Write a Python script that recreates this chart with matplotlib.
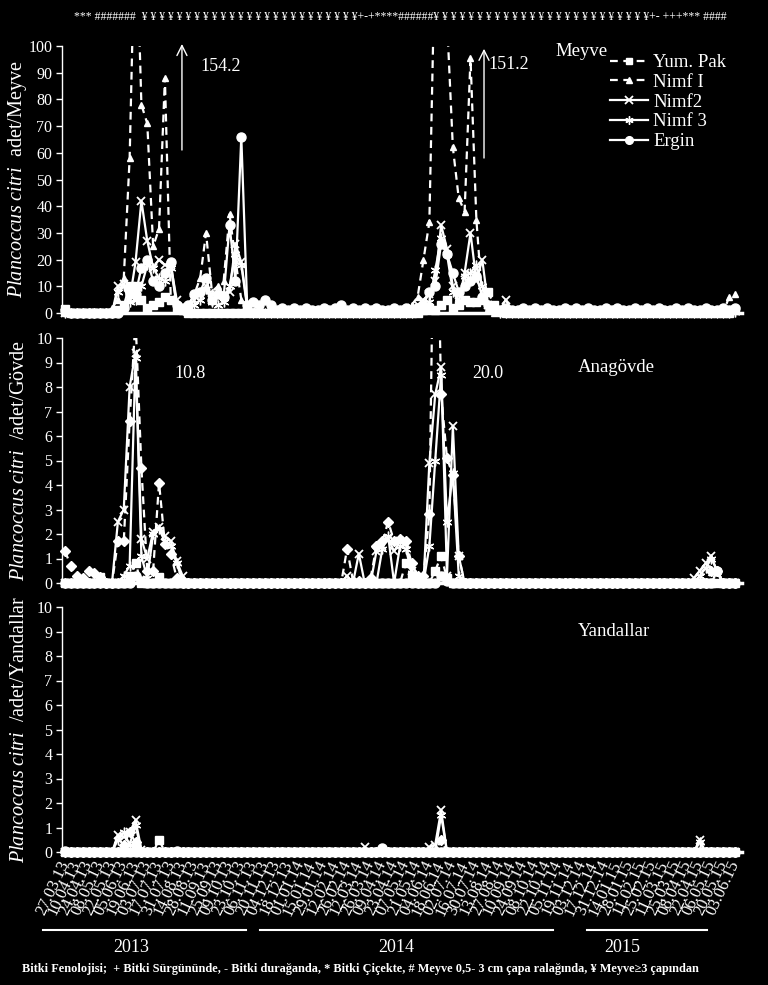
import numpy as np
import matplotlib
matplotlib.use('Agg')
import matplotlib.pyplot as plt
from matplotlib.lines import Line2D

plt.rcParams['font.family'] = ['Liberation Serif', 'DejaVu Serif']
plt.rcParams['mathtext.fontset'] = 'custom'
plt.rcParams['mathtext.rm'] = 'Liberation Serif'
plt.rcParams['mathtext.it'] = 'Liberation Serif:italic'

# ---------------- data ----------------
dates = ['27.03.13', '10.04.13', '24.04.13', '08.05.13', '22.05.13', '05.06.13', '19.06.13',
         '03.07.13', '17.07.13', '31.07.13', '14.08.13', '28.08.13', '11.09.13', '25.09.13',
         '09.10.13', '23.10.13', '06.11.13', '20.11.13', '04.12.13', '18.12.13',
         '01.01.14', '15.01.14', '29.01.14', '12.02.14', '26.02.14', '12.03.14', '26.03.14',
         '09.04.14', '23.04.14', '07.05.14', '21.05.14', '04.06.14', '18.06.14', '02.07.14',
         '16.07.14', '30.07.14', '13.08.14', '27.08.14', '10.09.14', '24.09.14', '08.10.14',
         '22.10.14', '05.11.14', '19.11.14', '03.12.14', '17.12.14', '31.12.14',
         '14.01.15', '28.01.15', '11.02.15', '25.02.15', '11.03.15', '25.03.15', '08.04.15',
         '22.04.15', '06.05.15', '20.05.15', '03.06.15']

series_names = ['Yum. Pak', 'Nimf I', 'Nimf2', 'Nimf 3', 'Ergin']

# Meyve (fruit)
meyve_yum = [1.5, 0, 0, 0, 0, 0, 0, 0, 0, 1,
             3, 10, 10, 5, 2, 3, 4, 6, 5, 2,
             1, 0, 0, 0, 0, 0, 0, 0, 0, 0,
             0, 0, 0, 0, 0, 0, 0, 0, 0, 0,
             0, 0, 0, 0, 0, 0, 0, 0, 0, 0,
             0, 0, 0, 0, 0, 0, 0, 0, 0, 0,
             0, 1, 2, 1, 3, 5, 2, 3, 5, 4,
             4, 5, 8, 3, 1, 0, 0, 0, 0, 0,
             0, 0, 0, 0, 0, 0, 0, 0, 0, 0,
             0, 0, 0, 0, 0, 0, 0, 0, 0, 0,
             0, 0, 0, 0, 0, 0, 0, 0, 0, 0,
             0, 0, 0, 0, 1]
meyve_n1 = [0, 0, 0, 0, 0, 0, 0, 0, 2, 5,
            13, 58, 154.2, 78, 71, 25, 31.5, 88, 5, 2,
            1, 3, 7, 13, 30, 8, 10, 12, 37, 20,
            5, 1, 0, 0, 0, 0, 0, 0, 0, 0,
            0, 0, 0, 0, 0, 0, 0, 0, 0, 0,
            0, 0, 0, 0, 0, 0, 0, 0, 1, 3,
            6, 20, 34, 140, 151.2, 110, 62, 43, 38, 95.5,
            35, 5, 2, 0, 0, 0, 0, 0, 0, 0,
            0, 0, 0, 0, 0, 0, 0, 0, 0, 0,
            0, 0, 0, 0, 0, 0, 0, 0, 0, 0,
            0, 0, 0, 0, 0, 0, 0, 0, 0, 0,
            0, 0, 0, 6, 7]
meyve_n2 = [0, 0, 0, 0, 0, 0, 0, 0, 0, 10,
            11, 5, 19, 42, 27, 17, 20, 18, 18, 5,
            2, 1, 5, 7, 10, 5, 6, 7, 8, 26,
            19, 3, 1, 0, 0, 0, 0, 0, 0, 0,
            0, 0, 0, 0, 0, 0, 0, 0, 0, 0,
            0, 0, 0, 0, 0, 0, 0, 0, 1, 2,
            3, 5, 7, 12, 33, 24, 10, 4, 15, 30,
            12, 20, 3, 2, 1, 5, 0.5, 0, 0, 0,
            0, 0, 0, 0, 0, 0, 0, 0, 0, 0,
            0, 0, 0, 0, 0, 0, 0, 0, 0, 0,
            0, 0, 0, 0, 0, 0, 0, 0, 0, 0,
            0, 0, 0, 0, 1]
meyve_n3 = [0, 0, 0, 0, 0, 0, 0, 0, 0, 8,
            10, 4, 5, 10, 18, 17, 13, 12, 17, 3,
            1, 1, 3, 5, 9, 4, 3, 4, 10, 22,
            18, 2, 0, 0, 0, 0, 0, 0, 0, 0,
            0, 0, 0, 0, 0, 0, 0, 0, 0, 0,
            0, 0, 0, 0, 0, 0, 0, 0, 0, 0,
            1, 2, 4, 16, 28, 22, 8, 4, 14, 15,
            18, 10, 3, 1, 0, 0, 0, 0, 0, 0,
            0, 0, 0, 0, 0, 0, 0, 0, 0, 0,
            0, 0, 0, 0, 0, 0, 0, 0, 0, 0,
            0, 0, 0, 0, 0, 0, 0, 0, 0, 0,
            0, 0, 0, 0, 0.5]
meyve_erg = [1, 0, 0, 0, 0, 0, 0, 0, 0, 0,
             2, 7, 7, 17, 20, 12, 10, 15, 19, 3,
             2, 3, 7, 8, 13, 5, 7, 6, 33, 12,
             66, 3, 4, 3, 5, 3, 1, 2, 1, 2,
             1, 2, 1, 1, 2, 1, 2, 3, 1, 2,
             1, 2, 1, 2, 1, 1, 2, 1, 2, 1,
             2, 3, 8, 10, 26, 22, 15, 8, 10, 12,
             14, 6, 3, 2, 1, 2, 1, 1, 2, 1,
             2, 1, 2, 1, 1, 2, 1, 2, 1, 2,
             1, 1, 2, 1, 2, 1, 1, 2, 1, 2,
             1, 2, 1, 1, 2, 1, 2, 1, 1, 2,
             1, 1, 2, 1, 2]

# Anagovde (main trunk)
govde_yum = [0, 0, 0, 0, 0, 0, 0.25, 0, 0, 0,
             0, 0.3, 0.8, 0, 0, 0, 0.25, 0, 0, 0,
             0, 0, 0, 0, 0, 0, 0, 0, 0, 0,
             0, 0, 0, 0, 0, 0, 0, 0, 0, 0,
             0, 0, 0, 0, 0, 0, 0, 0, 0, 0,
             0, 0, 0, 0, 0, 0, 0, 0, 0.8, 0.3,
             0, 0, 0, 0.5, 1.1, 0.2, 0, 0, 0, 0,
             0, 0, 0, 0, 0, 0, 0, 0, 0, 0,
             0, 0, 0, 0, 0, 0, 0, 0, 0, 0,
             0, 0, 0, 0, 0, 0, 0, 0, 0, 0,
             0, 0, 0, 0, 0, 0, 0, 0, 0, 0,
             0, 0, 0, 0, 0]
govde_n1 = [1.3, 0.7, 0.3, 0.2, 0.5, 0.4, 0.25, 0, 0, 1.7,
            1.7, 6.6, 10.8, 4.7, 0.5, 0.5, 4.1, 1.6, 1.2, 0.2,
            0, 0, 0, 0, 0, 0, 0, 0, 0, 0,
            0, 0, 0, 0, 0, 0, 0, 0, 0, 0,
            0, 0, 0, 0, 0, 0, 0, 0, 1.4, 0.1,
            0.1, 0, 0.2, 1.5, 1.7, 2.5, 1.7, 1.8, 1.7, 0.8,
            0.3, 0.3, 2.8, 20.0, 7.7, 5.1, 4.4, 1.1, 0, 0,
            0, 0, 0, 0, 0, 0, 0, 0, 0, 0,
            0, 0, 0, 0, 0, 0, 0, 0, 0, 0,
            0, 0, 0, 0, 0, 0, 0, 0, 0, 0,
            0, 0, 0, 0, 0, 0, 0, 0, 0, 0,
            0.5, 0.5, 0, 0, 0]
govde_n2 = [0, 0, 0, 0, 0, 0, 0, 0, 0, 2.5,
            3.0, 8.0, 9.4, 1.8, 1.0, 2.1, 2.3, 1.9, 1.7, 0.9,
            0.3, 0, 0, 0, 0, 0, 0, 0, 0, 0,
            0, 0, 0, 0, 0, 0, 0, 0, 0, 0,
            0, 0, 0, 0, 0, 0, 0, 0, 0.3, 0,
            1.2, 0, 0, 1.3, 1.5, 1.8, 1.3, 1.7, 1.6, 0.5,
            0, 0, 4.9, 7.7, 8.8, 0.3, 6.4, 1.1, 0, 0,
            0, 0, 0, 0, 0, 0, 0, 0, 0, 0,
            0, 0, 0, 0, 0, 0, 0, 0, 0, 0,
            0, 0, 0, 0, 0, 0, 0, 0, 0, 0,
            0, 0, 0, 0, 0, 0, 0, 0.2, 0.5, 0.8,
            1.1, 0.4, 0, 0, 0]
govde_n3 = [0, 0, 0, 0, 0, 0, 0, 0, 0, 0,
            0.3, 0.7, 9.2, 1.1, 0.2, 2.0, 2.2, 1.7, 1.5, 0.8,
            0.1, 0, 0, 0, 0, 0, 0, 0, 0, 0,
            0, 0, 0, 0, 0, 0, 0, 0, 0, 0,
            0, 0, 0, 0, 0, 0, 0, 0, 0, 0,
            0, 0, 0, 0, 1.4, 1.9, 0, 1.5, 1.4, 0.4,
            0, 0, 1.5, 5.0, 8.5, 2.5, 4.5, 0.3, 0, 0,
            0, 0, 0, 0, 0, 0, 0, 0, 0, 0,
            0, 0, 0, 0, 0, 0, 0, 0, 0, 0,
            0, 0, 0, 0, 0, 0, 0, 0, 0, 0,
            0, 0, 0, 0, 0, 0, 0, 0, 0.3, 0.6,
            1.0, 0.5, 0, 0, 0]
govde_erg = [0, 0, 0, 0, 0, 0, 0, 0, 0, 0,
             0, 0, 0.3, 0.1, 0, 0, 0, 0, 0, 0,
             0, 0, 0, 0, 0, 0, 0, 0, 0, 0,
             0, 0, 0, 0, 0, 0, 0, 0, 0, 0,
             0, 0, 0, 0, 0, 0, 0, 0, 0, 0,
             0, 0, 0, 0, 0, 0, 0, 0, 0, 0,
             0, 0, 0, 0, 0.3, 0.1, 0, 0, 0, 0,
             0, 0, 0, 0, 0, 0, 0, 0, 0, 0,
             0, 0, 0, 0, 0, 0, 0, 0, 0, 0,
             0, 0, 0, 0, 0, 0, 0, 0, 0, 0,
             0, 0, 0, 0, 0, 0, 0, 0, 0, 0,
             0, 0.5, 0, 0, 0]

# Yandallar (side branches)
yan_yum = [0, 0, 0, 0, 0, 0, 0, 0, 0, 0,
           0, 0, 0.2, 0, 0, 0, 0.5, 0, 0, 0,
           0, 0, 0, 0, 0, 0, 0, 0, 0, 0,
           0, 0, 0, 0, 0, 0, 0, 0, 0, 0,
           0, 0, 0, 0, 0, 0, 0, 0, 0, 0,
           0, 0, 0, 0, 0, 0, 0, 0, 0, 0,
           0, 0, 0, 0, 0, 0, 0, 0, 0, 0,
           0, 0, 0, 0, 0, 0, 0, 0, 0, 0,
           0, 0, 0, 0, 0, 0, 0, 0, 0, 0,
           0, 0, 0, 0, 0, 0, 0, 0, 0, 0,
           0, 0, 0, 0, 0, 0, 0, 0, 0, 0,
           0, 0, 0, 0, 0]
yan_n1 = [0, 0, 0, 0, 0, 0, 0, 0, 0, 0,
          0.3, 0.8, 0.4, 0, 0, 0, 0, 0, 0, 0,
          0, 0, 0, 0, 0, 0, 0, 0, 0, 0,
          0, 0, 0, 0, 0, 0, 0, 0, 0, 0,
          0, 0, 0, 0, 0, 0, 0, 0, 0, 0,
          0, 0, 0, 0, 0, 0, 0, 0, 0, 0,
          0, 0, 0, 0, 0.5, 0, 0, 0, 0, 0,
          0, 0, 0, 0, 0, 0, 0, 0, 0, 0,
          0, 0, 0, 0, 0, 0, 0, 0, 0, 0,
          0, 0, 0, 0, 0, 0, 0, 0, 0, 0,
          0, 0, 0, 0, 0, 0, 0, 0, 0, 0,
          0, 0, 0, 0, 0]
yan_n2 = [0, 0, 0, 0, 0, 0, 0, 0, 0, 0.7,
          0.6, 0.8, 1.3, 0.1, 0, 0, 0, 0, 0, 0,
          0, 0, 0, 0, 0, 0, 0, 0, 0, 0,
          0, 0, 0, 0, 0, 0, 0, 0, 0, 0,
          0, 0, 0, 0, 0, 0, 0, 0, 0, 0,
          0, 0.2, 0, 0, 0, 0, 0, 0, 0, 0,
          0, 0, 0.2, 0.3, 1.7, 0, 0, 0, 0, 0,
          0, 0, 0, 0, 0, 0, 0, 0, 0, 0,
          0, 0, 0, 0, 0, 0, 0, 0, 0, 0,
          0, 0, 0, 0, 0, 0, 0, 0, 0, 0,
          0, 0, 0, 0, 0, 0, 0, 0, 0.5, 0,
          0, 0, 0, 0, 0]
yan_n3 = [0, 0, 0, 0, 0, 0, 0, 0, 0, 0.5,
          0.8, 0.3, 1.1, 0, 0, 0, 0, 0, 0, 0,
          0, 0, 0, 0, 0, 0, 0, 0, 0, 0,
          0, 0, 0, 0, 0, 0, 0, 0, 0, 0,
          0, 0, 0, 0, 0, 0, 0, 0, 0, 0,
          0, 0, 0, 0, 0, 0, 0, 0, 0, 0,
          0, 0, 0, 0, 1.5, 0, 0, 0, 0, 0,
          0, 0, 0, 0, 0, 0, 0, 0, 0, 0,
          0, 0, 0, 0, 0, 0, 0, 0, 0, 0,
          0, 0, 0, 0, 0, 0, 0, 0, 0, 0,
          0, 0, 0, 0, 0, 0, 0, 0, 0.4, 0,
          0, 0, 0, 0, 0]
yan_erg = [0.05, 0, 0, 0, 0, 0, 0, 0, 0, 0,
           0, 0, 0, 0, 0, 0, 0, 0, 0, 0.05,
           0, 0, 0, 0, 0, 0, 0, 0, 0, 0,
           0, 0, 0, 0, 0, 0, 0, 0, 0, 0,
           0, 0, 0, 0, 0, 0, 0, 0, 0, 0,
           0, 0, 0, 0, 0.15, 0, 0, 0, 0, 0,
           0, 0, 0, 0, 0, 0, 0, 0, 0, 0,
           0, 0, 0, 0, 0, 0, 0, 0, 0, 0,
           0, 0, 0, 0, 0, 0, 0, 0, 0, 0,
           0, 0, 0, 0, 0, 0, 0, 0, 0, 0,
           0, 0, 0, 0, 0, 0, 0, 0, 0, 0,
           0, 0, 0, 0, 0]

phenology = ("*** #######  " + " ".join("¥" * 25) + "+-+****######"
             + " ".join("¥" * 25) + "+- +++*** ####")
footnote = ("Bitki Fenolojisi;  + Bitki Sürgününde, - Bitki durağanda, * Bitki Çiçekte, "
            "# Meyve 0,5- 3 cm çapa ralağında, ¥ Meyve≥3 çapından")

# ---------------- figure ----------------
W, H = 768, 985
fig = plt.figure(figsize=(W / 100, H / 100), dpi=100, facecolor='black')


def ax_at(left, right, top, bottom):
    ax = fig.add_axes([left / W, 1 - bottom / H, (right - left) / W, (bottom - top) / H])
    ax.set_facecolor('black')
    return ax


ax1 = ax_at(62, 742, 46, 313)
ax2 = ax_at(62, 742, 338, 583)
ax3 = ax_at(62, 742, 607, 852)

DASH = (0, (3.5, 2.5))
LW = 1.6


def styles(n1marker):
    return [
        dict(ls=DASH, marker='s', ms=5.5),
        dict(ls=DASH, marker=n1marker, ms=5),
        dict(ls='-', marker='x', ms=6, mew=1.3),
        dict(ls='-', marker=(6, 2, 0), ms=7, mew=1.0),
        dict(ls='-', marker='o', ms=6.5),
    ]


def draw(ax, data, ymax, step, n1marker):
    x = np.arange(len(data[0]))
    for vals, st in zip(data, styles(n1marker)):
        v = np.asarray(vals, dtype=float)
        ax.plot(x, v, color='white', lw=LW, ls=st['ls'], clip_on=True, zorder=2)
        vm = np.where(v <= ymax, v, np.nan)
        ax.plot(x, vm, ls='none', marker=st['marker'], ms=st['ms'],
                mew=st.get('mew', 1.0), color='white', mfc='white', mec='white',
                clip_on=False, zorder=3)
    ax.set_xlim(-0.51, 115.2)
    ax.set_ylim(0, ymax)
    ax.set_yticks(np.arange(0, ymax + 1, step))
    for s in ['top', 'right']:
        ax.spines[s].set_visible(False)
    for s in ['left', 'bottom']:
        ax.spines[s].set_color('white')
        ax.spines[s].set_linewidth(1.0)
    ax.spines['bottom'].set_linewidth(2.5)
    ax.tick_params(axis='y', colors='white', labelsize=11.5, length=4, width=1,
                   direction='out', pad=3)
    ax.tick_params(axis='x', length=0)


draw(ax1, [meyve_yum, meyve_n1, meyve_n2, meyve_n3, meyve_erg], 100, 10, '^')
draw(ax2, [govde_yum, govde_n1, govde_n2, govde_n3, govde_erg], 10, 1, 'D')
draw(ax3, [yan_yum, yan_n1, yan_n2, yan_n3, yan_erg], 10, 1, 'D')

ax1.set_xticks([])
ax2.set_xticks([])
ax3.set_xticks(np.arange(0, 2 * len(dates), 2))
ax3.set_xticklabels(dates, rotation=65, ha='right', va='center',
                    rotation_mode='anchor', fontsize=12, color='white')
ax3.tick_params(axis='x', pad=7)

ylab_kw = dict(color='white', fontsize=14.5)
ax1.set_ylabel(r'$\mathit{Plancoccus\ citri}$  adet/Meyve', **ylab_kw)
ax2.set_ylabel(r'$\mathit{Plancoccus\ citri}$  /adet/Gövde', **ylab_kw)
ax3.set_ylabel(r'$\mathit{Plancoccus\ citri}$  /adet/Yandallar', **ylab_kw)
for ax in (ax1, ax2, ax3):
    ax.yaxis.set_label_coords(-0.048, 0.5)

# annotations
arrow_kw = dict(arrowstyle='->', color='white', lw=1.0, mutation_scale=18)
ax1.annotate('', xy=(19.9, 101.8), xytext=(19.9, 60), arrowprops=arrow_kw,
             annotation_clip=False)
ax1.annotate('', xy=(71.3, 100.0), xytext=(71.3, 57), arrowprops=arrow_kw,
             annotation_clip=False)
txt_kw = dict(color='white', fontsize=13, ha='left', va='center')
ax1.text(23.0, 92.2, '154.2', **txt_kw)
ax1.text(72.0, 92.9, '151.2', **txt_kw)
ax1.text(83.4, 97.8, 'Meyve', color='white', fontsize=13.5, ha='left', va='center')
ax2.text(18.7, 8.57, '10.8', **txt_kw)
ax2.text(69.3, 8.57, '20.0', **txt_kw)
ax2.text(87.3, 8.78, 'Anagövde', color='white', fontsize=13.5, ha='left', va='center')
ax3.text(87.3, 8.98, 'Yandallar', color='white', fontsize=13.5, ha='left', va='center')

# legend
handles = []
for st in styles('^'):
    handles.append(Line2D([], [], color='white', lw=LW, ls=st['ls'], marker=st['marker'],
                          ms=st['ms'] * 0.85, mew=st.get('mew', 1.0), mfc='white', mec='white'))
leg = ax1.legend(handles, series_names, loc='upper left', bbox_to_anchor=(610 / W, 1 - 54 / H),
                 bbox_transform=fig.transFigure, frameon=False, fontsize=13.5,
                 labelcolor='white', handlelength=2.0, handletextpad=0.3,
                 labelspacing=0.14, borderpad=0, borderaxespad=0)

# phenology strip
fig.text(400 / W, 1 - 17 / H, phenology, ha='center', va='center', fontsize=8.5, color='white')

# year lines and labels
for x0, x1, xt, yr in [(43, 246, 131, '2013'), (260, 553, 396, '2014'), (587, 707, 622, '2015')]:
    fig.add_artist(Line2D([x0 / W, x1 / W], [1 - 930 / H, 1 - 930 / H], color='white', lw=1.5))
    fig.text(xt / W, 1 - 948 / H, yr, ha='center', va='center', fontsize=13, color='white')

fig.text(22 / W, 1 - 969 / H, footnote, ha='left', va='center', fontsize=8.8,
         fontweight='bold', color='white')

fig.savefig('out.png', dpi=100, facecolor='black')
